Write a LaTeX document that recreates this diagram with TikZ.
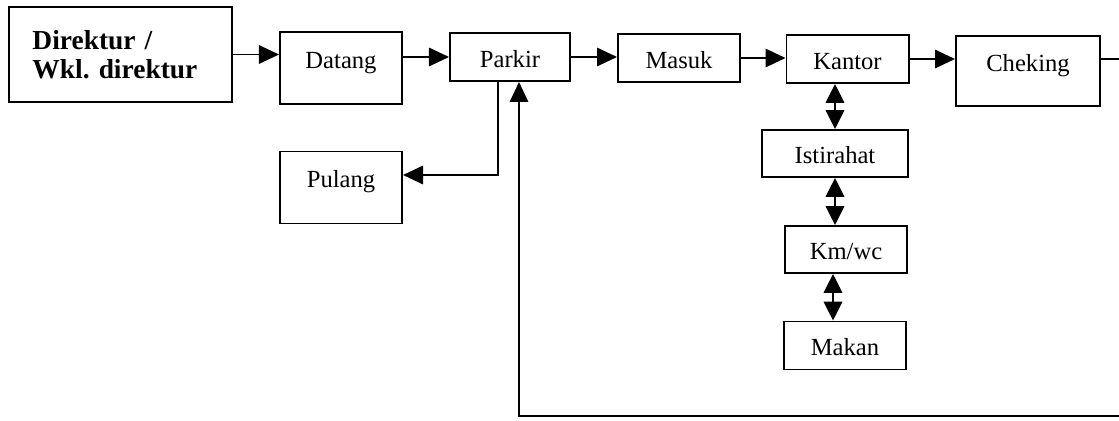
\documentclass[tikz,border=0pt]{standalone}
\usepackage{fontspec}
\setmainfont{Liberation Serif}
\usetikzlibrary{arrows.meta,calc}

\begin{document}
\begin{tikzpicture}[
    x=0.025cm, y=-0.025cm,
    line width=1.4pt,
    font=\fontsize{17.5}{20}\selectfont,
    box/.style={rectangle, draw, minimum width=3.05cm, minimum height=1.2cm, text height=0.5cm, text depth=0cm, inner sep=2pt},
    tallbox/.style={box, minimum height=1.8cm, text depth=0.5cm},
    arrow/.style={-{Triangle[length=0.5cm, width=0.46cm]}},
    twoway/.style={{Triangle[length=0.47cm, width=0.46cm]}-{Triangle[length=0.47cm, width=0.46cm]}}
]
\useasboundingbox (0,0) rectangle (1119,421);

% Main flow
\node[draw, minimum width=5.575cm, minimum height=2.375cm, text width=4.4cm, align=left, inner xsep=0.575cm, font=\bfseries\fontsize{19.5}{20.5}\selectfont] (dir) at (120.5,54.5) {Direktur /\\Wkl.\ direktur};
\node[tallbox] (datang) at (341,68) {Datang};
\node[box, minimum width=3cm] (parkir) at (510,57) {Parkir};
\node[box] (masuk) at (679,58) {Masuk};
\node[box] (kantor) at (847.5,59) {Kantor};
\node[tallbox, minimum width=3.6cm, minimum height=1.75cm] (cheking) at (1028,71) {Cheking};
\node[tallbox] (pulang) at (341,187.5) {Pulang};

% Inside the office
\node[box, minimum width=3.65cm, minimum height=1.175cm] (istirahat) at (835,153.5) {Istirahat};
\node[box, minimum height=1.175cm] (kmwc) at (846,249.5) {Km/wc};
\node[box] (makan) at (845,345.5) {Makan};

% Arrows
\draw[arrow] (dir.east) -- (dir.east -| datang.west);
\draw[arrow] (datang.east |- parkir.west) -- (parkir.west);
\draw[arrow] (parkir.east) -- (parkir.east -| masuk.west);
\draw[arrow] (masuk.east) -- (masuk.east -| kantor.west);
\draw[arrow] (kantor.east) -- (kantor.east -| cheking.west);

% Going home, and back to the car park
\draw[arrow] ($(parkir.south)+(-12,0)$) |- ($(pulang.east)+(0,-12.5)$);
\coordinate (corner) at (1123,416);
\draw[arrow] (cheking.east |- kantor.east) -| (corner) -| ($(parkir.south)+(9,0)$);

% Two-way links
\draw[twoway] (istirahat.north |- kantor.south) -- (istirahat.north);
\draw[twoway] (istirahat.south) -- (istirahat.south |- kmwc.north);
\draw[twoway] ($(kmwc.south)+(-13,0)$) -- ($(makan.north)+(-12,0)$);

\end{tikzpicture}
\end{document}
